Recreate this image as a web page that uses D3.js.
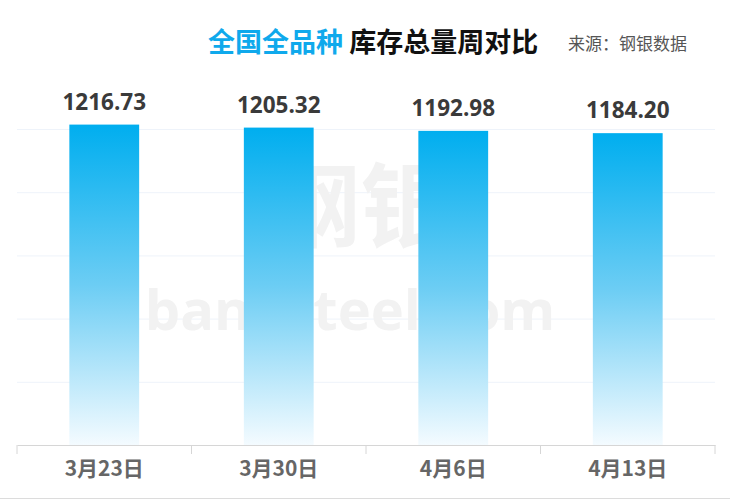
<!DOCTYPE html>
<html>
<head>
<meta charset="utf-8">
<script src="https://d3js.org/d3.v7.min.js"></script>
<style>
  body { margin: 0; background: #fff; }
  svg { display: block; font-family: "Noto Sans CJK SC", "Noto Sans", sans-serif; }
</style>
</head>
<body>
<script>
// data
let dates = ["3月23日", "3月30日", "4月6日", "4月13日"]
let stock = [1216.73, 1205.32, 1192.98, 1184.20]
let yTicks = [0, 240, 480, 720, 960, 1200]

let width = 730
let height = 500
let margin = {top: 129, right: 15, bottom: 55, left: 17}

let svg = d3.select("body").append("svg")
    .attr("width", width)
    .attr("height", height)

// gradient for bars
let grad = svg.append("defs").append("linearGradient")
    .attr("id", "barGrad")
    .attr("x1", 0).attr("y1", 0).attr("x2", 0).attr("y2", 1)
grad.append("stop").attr("offset", "0%").attr("stop-color", "#00aeef")
grad.append("stop").attr("offset", "50%").attr("stop-color", "#6ccdf4")
grad.append("stop").attr("offset", "100%").attr("stop-color", "#f4fbff")

let x = d3.scaleBand()
    .domain(dates)
    .range([margin.left, width - margin.right])
    .paddingInner(0.6)
    .paddingOuter(0.3)

let y = d3.scaleLinear()
    .domain([0, 1200])
    .range([height - margin.bottom, margin.top])

// gridlines
svg.append("g")
    .selectAll("line")
    .data(yTicks.slice(1))
    .join("line")
    .attr("x1", margin.left)
    .attr("x2", width - margin.right)
    .attr("y1", d => y(d) + 0.5)
    .attr("y2", d => y(d) + 0.5)
    .attr("stroke", "#eef3fa")

// watermark
let wm = svg.append("g").attr("fill", "#f2f2f2").attr("font-weight", "bold")
wm.append("text")
    .attr("x", 360).attr("y", 240)
    .attr("text-anchor", "middle")
    .attr("font-size", 92)
    .text("钢银")
wm.append("text")
    .attr("x", 350).attr("y", 330)
    .attr("text-anchor", "middle")
    .attr("font-size", 56)
    .attr("font-family", "Open Sans, sans-serif")
    .text("banksteel.com")

// bars
svg.append("g")
    .selectAll("rect")
    .data(stock)
    .join("rect")
    .attr("x", (d, i) => x(dates[i]))
    .attr("width", x.bandwidth())
    .attr("y", d => y(d))
    .attr("height", d => y(0) - y(d))
    .attr("fill", "url(#barGrad)")

// value labels
svg.append("g")
    .selectAll("text")
    .data(stock)
    .join("text")
    .attr("x", (d, i) => x(dates[i]) + x.bandwidth() / 2)
    .attr("y", d => y(d) - 15)
    .attr("text-anchor", "middle")
    .attr("font-family", "Open Sans, sans-serif")
    .attr("font-weight", "bold")
    .attr("font-size", 22.5)
    .attr("fill", "#3a3a3a")
    .text(d => d.toFixed(2))

// x axis
let xAxis = d3.axisBottom(x).tickSize(0).tickPadding(16)
let gx = svg.append("g")
    .attr("transform", `translate(0,${y(0)})`)
    .call(xAxis)
gx.select(".domain").attr("stroke", "#d6d6d6")
gx.selectAll("text")
    .attr("font-size", 21)
    .attr("font-weight", "bold")
    .attr("fill", "#666")
    .attr("font-family", "Noto Sans CJK SC, sans-serif")

// band separators
let edges = d3.range(dates.length + 1).map(i => margin.left + i * (width - margin.right - margin.left) / dates.length)
gx.selectAll(".sep")
    .data(edges)
    .join("line")
    .attr("class", "sep")
    .attr("x1", d => d).attr("x2", d => d)
    .attr("y1", 0).attr("y2", 9)
    .attr("stroke", "#d6d6d6")

// bottom border
svg.append("line")
    .attr("x1", 0).attr("x2", width)
    .attr("y1", 498.5).attr("y2", 498.5)
    .attr("stroke", "#dcdcdc")

// title
let title = svg.append("text")
    .attr("x", 208)
    .attr("y", 52)
    .attr("font-size", 27)
    .attr("font-weight", "bold")
title.append("tspan").attr("fill", "#0fa9ec").text("全国全品种 ")
title.append("tspan").attr("fill", "#111").text("库存总量周对比")

svg.append("text")
    .attr("x", 568)
    .attr("y", 50)
    .attr("font-size", 17)
    .attr("fill", "#555")
    .text("来源：钢银数据")
</script>
</body>
</html>
